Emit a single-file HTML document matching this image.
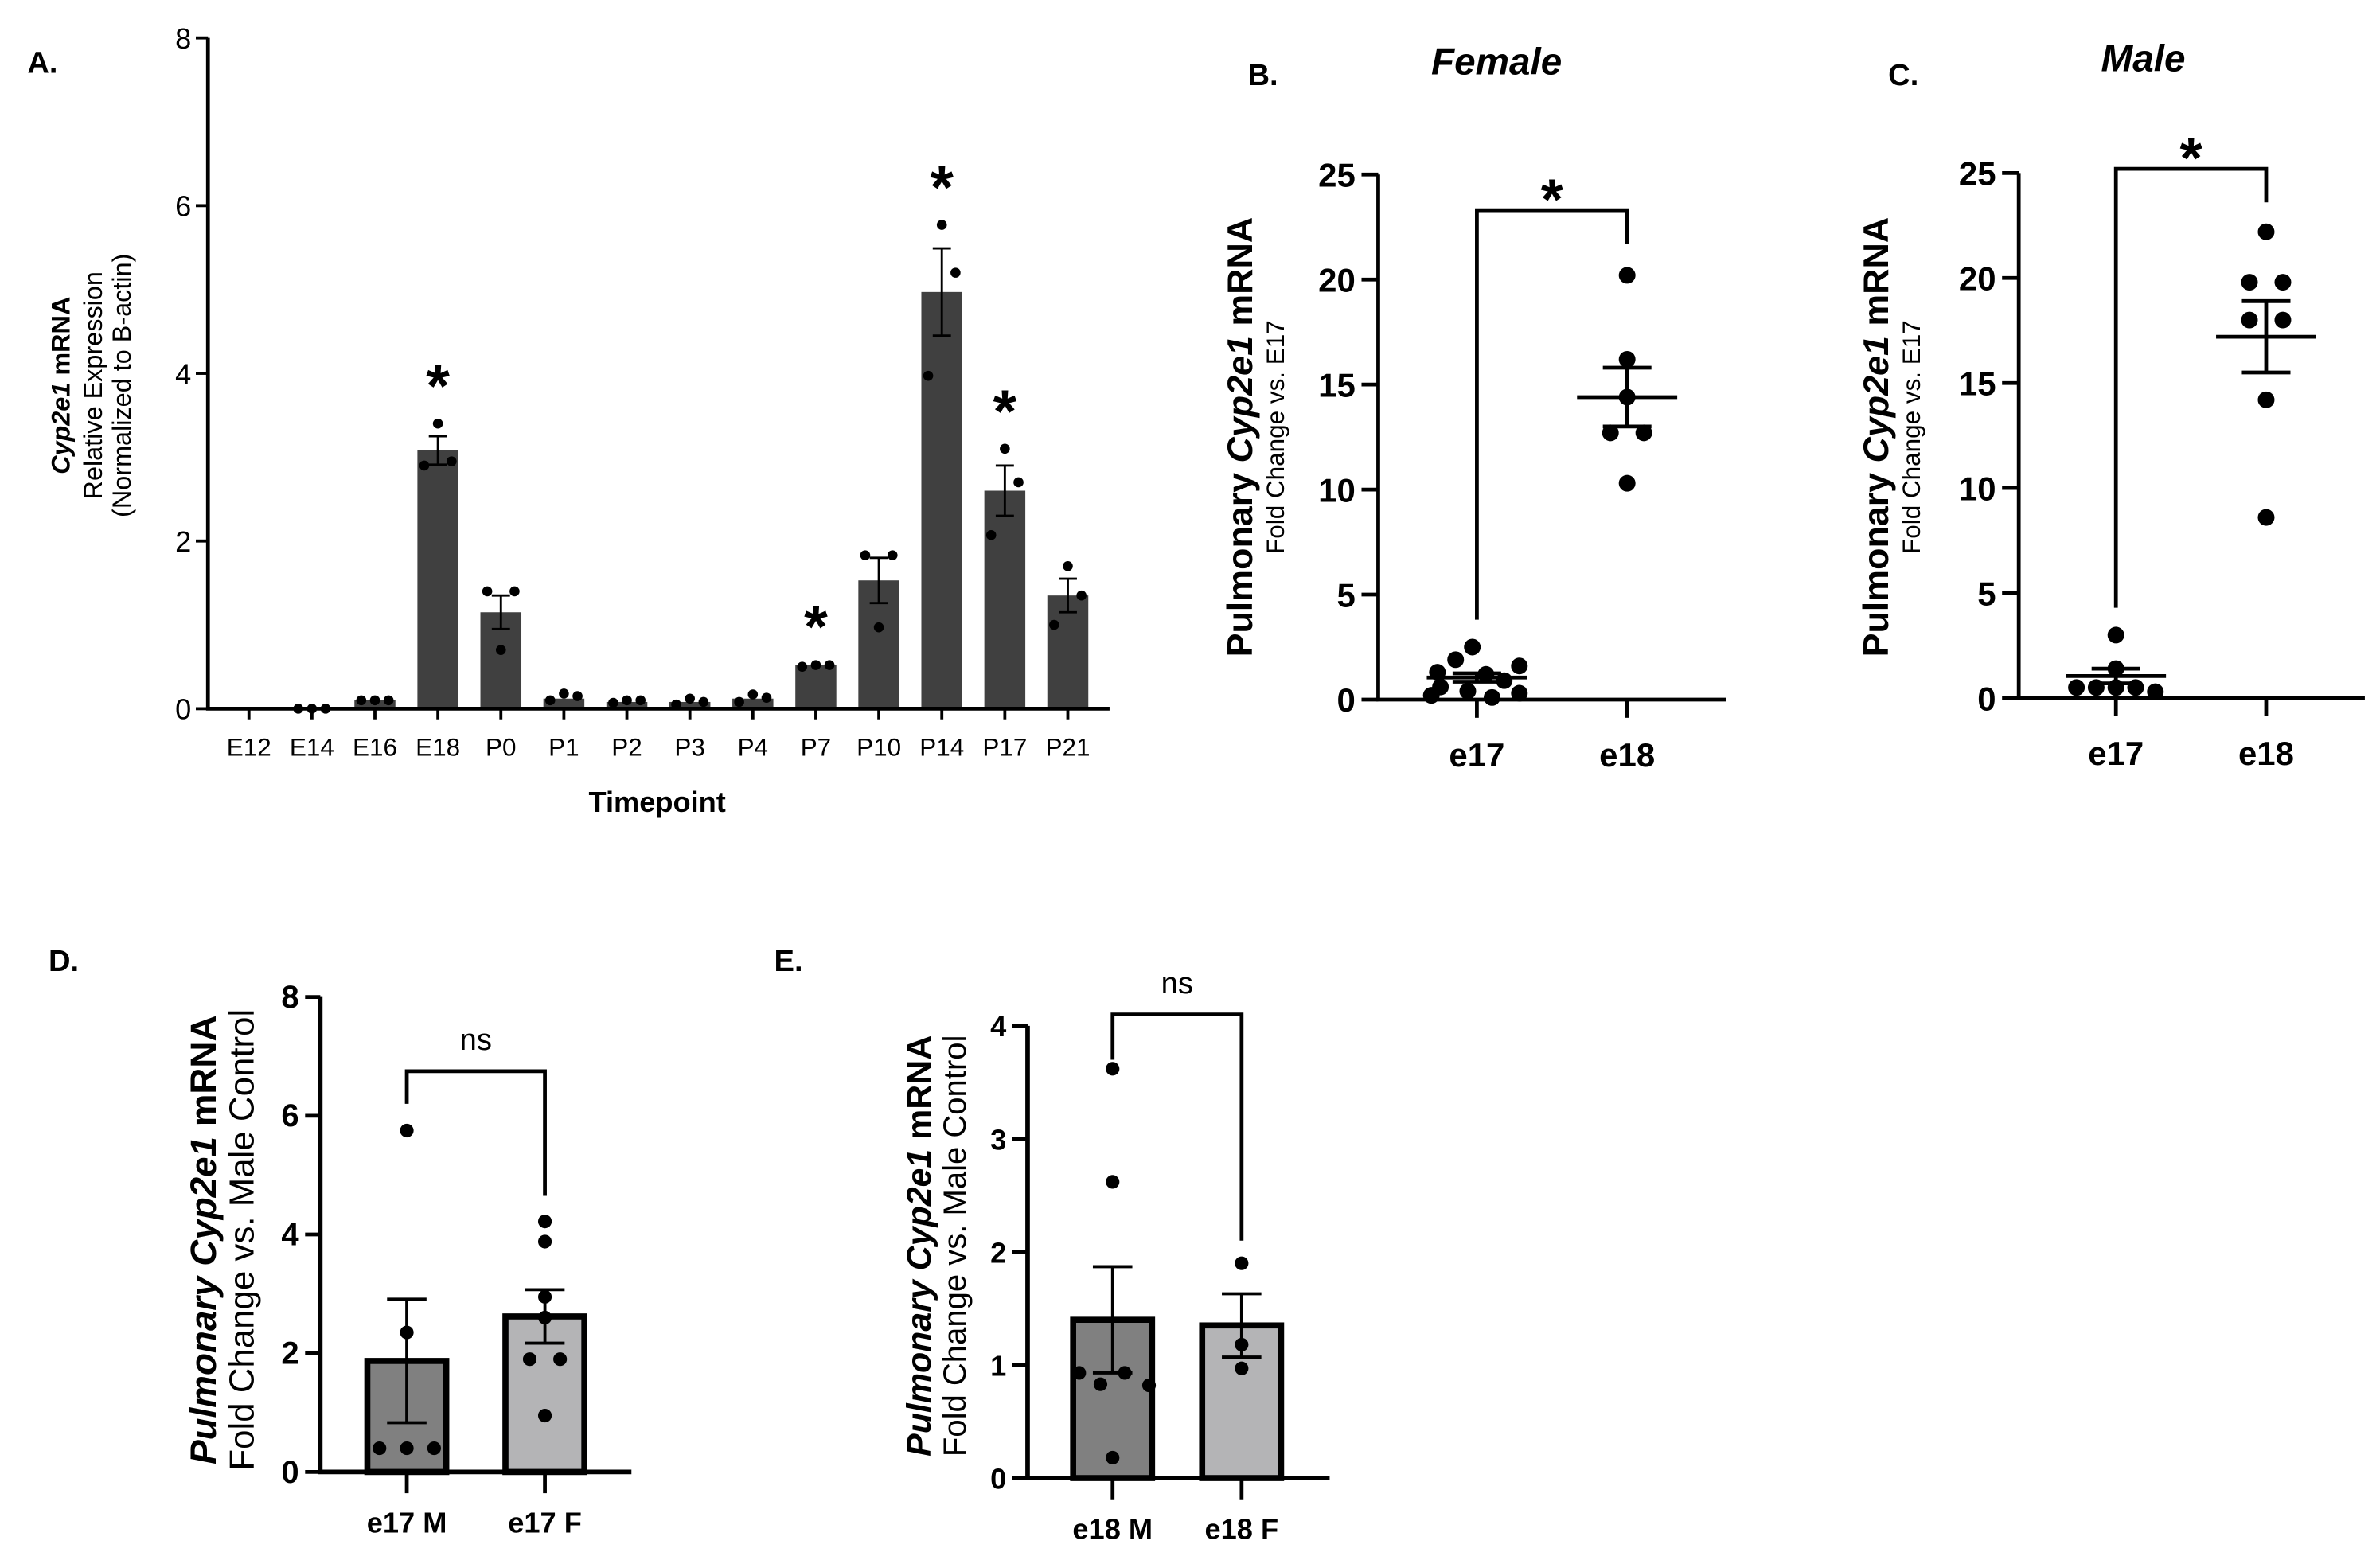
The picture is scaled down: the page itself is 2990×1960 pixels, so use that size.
<!DOCTYPE html>
<html><head><meta charset="utf-8"><style>
html,body{margin:0;padding:0;background:#fff;}
svg{display:block;}
text{font-family:"Liberation Sans",Arial,sans-serif;fill:#000;}
</style></head><body>
<svg id="fig" xmlns="http://www.w3.org/2000/svg" width="2990" height="1960" viewBox="0 0 1568 1028" preserveAspectRatio="none">
<rect width="1568" height="1028" fill="#fff"/>
<text x="18" y="48" font-size="20" font-weight="bold">A.</text>
<text x="822" y="56" font-size="20" font-weight="bold">B.</text>
<text x="1244" y="56" font-size="20" font-weight="bold">C.</text>
<text x="32" y="640" font-size="20" font-weight="bold">D.</text>
<text x="510" y="640" font-size="20" font-weight="bold">E.</text>
<text x="986" y="49" font-size="25" font-weight="bold" font-style="italic" text-anchor="middle">Female</text>
<text x="1412" y="47" font-size="25" font-weight="bold" font-style="italic" text-anchor="middle">Male</text>
<g transform="translate(46,254) rotate(-90)">
<text x="0" y="0" font-size="17" text-anchor="middle" font-weight="bold"><tspan font-style="italic">Cyp2e1</tspan> mRNA</text>
<text x="0" y="21" font-size="17" text-anchor="middle">Relative Expression</text>
<text x="0" y="40" font-size="17" text-anchor="middle">(Normalized to B-actin)</text>
</g>
<text x="433" y="535" font-size="19" font-weight="bold" text-anchor="middle">Timepoint</text>
<g transform="translate(825,288) rotate(-90)">
<text x="0" y="0" font-size="23.5" font-weight="bold" text-anchor="middle">Pulmonary <tspan font-style="italic">Cyp2e1</tspan> mRNA</text>
<text x="0" y="21" font-size="16.5" text-anchor="middle">Fold Change vs. E17</text>
</g>
<g transform="translate(1244,288) rotate(-90)">
<text x="0" y="0" font-size="23.5" font-weight="bold" text-anchor="middle">Pulmonary <tspan font-style="italic">Cyp2e1</tspan> mRNA</text>
<text x="0" y="21" font-size="16.5" text-anchor="middle">Fold Change vs. E17</text>
</g>
<g transform="translate(142,817) rotate(-90)">
<text x="0" y="0" font-size="24" font-weight="bold" text-anchor="middle"><tspan font-style="italic">Pulmonary Cyp2e1</tspan> mRNA</text>
<text x="0" y="25" font-size="23" text-anchor="middle">Fold Change vs. Male Control</text>
</g>
<g transform="translate(613,821) rotate(-90)">
<text x="0" y="0" font-size="22.5" font-weight="bold" text-anchor="middle"><tspan font-style="italic">Pulmonary Cyp2e1</tspan> mRNA</text>
<text x="0" y="23" font-size="21" text-anchor="middle">Fold Change vs. Male Control</text>
</g>
<g id="plots"></g>
</svg>
<script>
// Panel A
const aCats=["E12","E14","E16","E18","P0","P1","P2","P3","P4","P7","P10","P14","P17","P21"];
const aMeans=[0,0.01,0.1,3.08,1.15,0.12,0.08,0.08,0.12,0.52,1.53,4.97,2.6,1.35];
const aSem=[0,0,0.01,0.17,0.2,0.03,0.01,0.02,0.03,0.01,0.27,0.52,0.3,0.2];
const aPoints=[[],[0,0,0],[0.1,0.1,0.1],[2.9,3.4,2.95],[1.4,0.7,1.4],[0.1,0.18,0.15],[0.07,0.1,0.1],[0.05,0.12,0.08],[0.08,0.17,0.13],[0.5,0.52,0.52],[1.83,0.97,1.83],[3.97,5.77,5.2],[2.07,3.1,2.7],[1.0,1.7,1.35]];
const aStars=["E18","P7","P14","P17"];
const aTicks=[0,2,4,6,8];
// Panel B
const bCats=["e17","e18"];
const bPoints=[[2.5,1.9,1.6,1.3,1.2,0.9,0.6,0.4,0.3,0.2,0.1],[20.2,16.2,14.4,12.7,12.7,10.3]];
const bMeans=[1.05,14.4];
const bSem=[0.2,1.4];
// Panel C
const cCats=["e17","e18"];
const cPoints=[[3.0,1.4,0.5,0.5,0.5,0.5,0.3],[22.2,19.8,19.8,18.0,18.0,14.2,8.6]];
const cMeans=[1.05,17.2];
const cSem=[0.35,1.7];
const bcTicks=[0,5,10,15,20,25];
// Panel D
const dCats=["e17 M","e17 F"];
const dMeans=[1.87,2.62];
const dSem=[1.04,0.45];
const dPoints=[[5.75,2.35,0.4,0.4,0.4],[4.22,3.88,2.95,2.6,1.9,1.9,0.95]];
const dTicks=[0,2,4,6,8];
// Panel E
const eCats=["e18 M","e18 F"];
const eMeans=[1.4,1.35];
const eSem=[0.47,0.28];
const ePoints=[[3.62,2.62,0.93,0.83,0.93,0.82,0.18],[1.9,1.18,0.97]];
const eTicks=[0,1,2,3,4];

const NS="http://www.w3.org/2000/svg";
const root=document.getElementById('plots');
function mk(tag,attrs,parent){const e=document.createElementNS(NS,tag);for(const k in attrs)e.setAttribute(k,attrs[k]);(parent||root).appendChild(e);return e;}
function txt(x,y,s,size,extra,parent){const t=mk('text',Object.assign({x:x,y:y,'font-size':size},extra||{}),parent);t.textContent=s;return t;}
function offs(n,w){if(n<=1)return[0];const o=[];for(let i=0;i<n;i++)o.push(-w+2*w*i/(n-1));return o;}

// ---------- Panel A ----------
(function(){
 const X0=137,Y0=467,Ymax=25,vmax=8,x0=164,dx=41.5,bw=27;
 const y=v=>Y0-(Y0-Ymax)*v/vmax, x=i=>x0+i*dx;
 const g=mk('g',{});
 
 
 aCats.forEach((c,i)=>{
  if(aMeans[i]>0){const b=mk('rect',{x:x(i)-bw/2,y:y(aMeans[i]),width:bw,height:Y0-y(aMeans[i]),fill:'#404040'},g);
   
   }
  if(aSem[i]>0.05){const e=mk('path',{d:`M${x(i)},${y(aMeans[i]-aSem[i])}V${y(aMeans[i]+aSem[i])}M${x(i)-6},${y(aMeans[i]+aSem[i])}h12M${x(i)-6},${y(aMeans[i]-aSem[i])}h12`,stroke:'#000','stroke-width':1.5,fill:'none'},g);
   
   }
  const o=offs(aPoints[i].length,9);
  aPoints[i].forEach((v,j)=>{const d=mk('circle',{cx:x(i)+o[j],cy:y(v),r:3.3,fill:'#000'},g);
   
   });
  const tk=mk('line',{x1:x(i),x2:x(i),y1:Y0,y2:Y0+7,stroke:'#000','stroke-width':2},g);
  
  
  const l=txt(x(i),Y0+31,c,16.5,{'text-anchor':'middle'},g);
  
  
  if(aStars.includes(c)){const top=Math.max(...aPoints[i],aMeans[i]+aSem[i]);
   const s=txt(x(i),y(top)-11,'*',40,{'text-anchor':'middle','font-weight':'bold'},g);
   
   }
 });
 aTicks.forEach(t=>{const tk=mk('line',{x1:X0-8,x2:X0,y1:y(t),y2:y(t),stroke:'#000','stroke-width':2},g);
  
  
  const l=txt(X0-11,y(t)+7,String(t),19,{'text-anchor':'end'},g);
  
  });
 const ax=mk('path',{d:`M${X0},${Ymax}V${Y0}H731`,stroke:'#000','stroke-width':2.5,fill:'none'},g);
 
 
})();

// ---------- Scatter panels B, C ----------
function scatter(name,cats,pts,means,sem,X0,Y0,Ytop,xEnd,xs,br,star,jit){
 const y=v=>Y0-(Y0-Ytop)*v/25;
 const g=mk('g',{});
 
 
 cats.forEach((c,i)=>{
  pts[i].forEach((v,j)=>{
   const ox=jit[i][j]||0;
   const d=mk('circle',{cx:xs[i]+ox,cy:y(v),r:5.5,fill:'#000'},g);
   
   });
  const m=mk('path',{d:`M${xs[i]-33},${y(means[i])}h66M${xs[i]},${y(means[i]-sem[i])}V${y(means[i]+sem[i])}M${xs[i]-16},${y(means[i]+sem[i])}h32M${xs[i]-16},${y(means[i]-sem[i])}h32`,stroke:'#000','stroke-width':2.5,fill:'none'},g);
  
  
  const tk=mk('line',{x1:xs[i],x2:xs[i],y1:Y0,y2:Y0+12,stroke:'#000','stroke-width':2.5},g);
  
  
  const l=txt(xs[i],Y0+44,c,22,{'text-anchor':'middle','font-weight':'bold'},g);
  
  
 });
 bcTicks.forEach(t=>{const tk=mk('line',{x1:X0-11,x2:X0,y1:y(t),y2:y(t),stroke:'#000','stroke-width':2.5},g);
  
  
  const l=txt(X0-15,y(t)+8,String(t),22,{'text-anchor':'end','font-weight':'bold'},g);
  
  });
 const ax=mk('path',{d:`M${X0},${Ytop}V${Y0}H${xEnd}`,stroke:'#000','stroke-width':2.5,fill:'none'},g);
 
 
 const b=mk('path',{d:`M${xs[0]},${y(br[1])}V${y(br[0])}H${xs[1]}V${y(br[2])}`,stroke:'#000','stroke-width':2.5,fill:'none'},g);
 
 
 const s=txt((xs[0]+xs[1])/2,y(br[0])+6,star,38,{'text-anchor':'middle','font-weight':'bold'},g);
 
 
}
scatter('panel-b',bCats,bPoints,bMeans,bSem,908,461,115,1137,[973,1072],[23.3,3.8,21.7],'*',
 [[-3,-14,28,-26,6,18,-24,-6,28,-30,10],[0,0,0,-11,11,0]]);
scatter('panel-c',cCats,cPoints,cMeans,cSem,1330,460,114,1558,[1394,1493],[25.2,4.3,23.6],'*',
 [[0,0,-26,-13,0,13,26],[0,-11,11,-11,11,0,0]]);

// ---------- Bar panels D, E ----------
function bars(name,cats,means,sem,pts,ticks,vmax,X0,Y0,Ytop,xEnd,xs,br,fills,tickFs,jit){
 const y=v=>Y0-(Y0-Ytop)*v/vmax;
 const g=mk('g',{});
 
 
 cats.forEach((c,i)=>{
  const b=mk('rect',{x:xs[i]-26,y:y(means[i]),width:52,height:Y0-y(means[i]),fill:fills[i],stroke:'#000','stroke-width':4},g);
  
  
  pts[i].forEach((v,j)=>{
   const d=mk('circle',{cx:xs[i]+(jit[i][j]||0),cy:y(v),r:4.5,fill:'#000'},g);
   
   });
  const e=mk('path',{d:`M${xs[i]},${y(means[i]-sem[i])}V${y(means[i]+sem[i])}M${xs[i]-13},${y(means[i]+sem[i])}h26M${xs[i]-13},${y(means[i]-sem[i])}h26`,stroke:'#000','stroke-width':2,fill:'none'},g);
  
  
  const tk=mk('line',{x1:xs[i],x2:xs[i],y1:Y0,y2:Y0+14,stroke:'#000','stroke-width':2.5},g);
  
  
  const l=txt(xs[i],Y0+40,c,19,{'text-anchor':'middle','font-weight':'bold'},g);
  
  
 });
 ticks.forEach(t=>{const tk=mk('line',{x1:X0-10,x2:X0,y1:y(t),y2:y(t),stroke:'#000','stroke-width':2.5},g);
  
  
  const l=txt(X0-14,y(t)+7,String(t),tickFs,{'text-anchor':'end','font-weight':'bold'},g);
  
  });
 const ax=mk('path',{d:`M${X0},${Ytop}V${Y0}H${xEnd}`,stroke:'#000','stroke-width':3,fill:'none'},g);
 
 
 const b=mk('path',{d:`M${xs[0]},${y(br[1])}V${y(br[0])}H${xs[1]}V${y(br[2])}`,stroke:'#000','stroke-width':2.5,fill:'none'},g);
 
 
 const s=txt((xs[0]+xs[1])/2,y(br[0])-14,'ns',20,{'text-anchor':'middle'},g);
 
 
}
bars('panel-d',dCats,dMeans,dSem,dPoints,dTicks,8,211,970,657,416,[268,359],[6.75,6.2,4.65],['#808080','#b4b4b6'],21,
 [[0,0,-18,0,18],[0,0,0,0,-10,10,0]]);
bars('panel-e',eCats,eMeans,eSem,ePoints,eTicks,4,677,974,676,876,[733,818],[4.1,3.7,2.1],['#808080','#b4b4b6'],19,
 [[0,0,-22,-8,8,24,0],[0,0,0]]);
</script>
</body></html>
